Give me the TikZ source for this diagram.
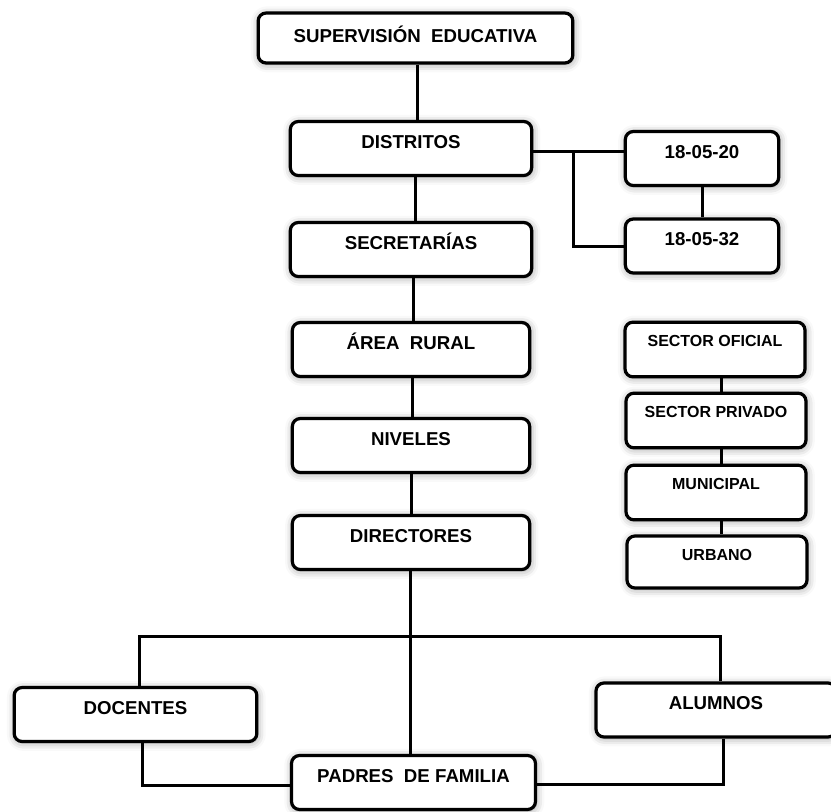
\documentclass[tikz,border=0pt]{standalone}
\usepackage{fontspec}
\setmainfont{Liberation Sans}
\usetikzlibrary{shadows.blur}

\tikzset{every picture/.style={line width=2.25pt}}
\tikzset{
  orgbox/.style={draw=black, line width=2.4pt, rounded corners=6pt, fill=white,
    blur shadow={shadow xshift=0.6pt, shadow yshift=-1pt, shadow blur radius=6pt, shadow opacity=40},
    inner xsep=0pt, inner ysep=0pt, align=center,
    font=\fontsize{14}{16}\selectfont\bfseries,
    text height=20pt, text depth=20.5pt, minimum width=181pt},
  sectorbox/.style={orgbox, font=\fontsize{12}{14}\selectfont\bfseries,
    text height=18pt, text depth=23pt, minimum width=135pt},
  codebox/.style={orgbox, minimum width=115pt},
}

\begin{document}
\begin{tikzpicture}[x=0.75pt,y=0.75pt,yscale=-1,xscale=1]
\useasboundingbox (0,0) rectangle (831,811); %keep the page at 831 x 811

%Shape: Rounded Rect (main column)
\node [orgbox, minimum width=236pt, text height=21.75pt, text depth=15.75pt] (sup) at (415.5,38) {SUPERVISIÓN~~EDUCATIVA};
\node [orgbox] (dis) at (411,148.5) {DISTRITOS};
\node [orgbox] (sec) at (411,249.5) {SECRETARÍAS};
\node [orgbox, minimum width=178pt] (are) at (411,349.5) {ÁREA~~RURAL};
\node [orgbox, minimum width=178pt] (niv) at (411,445.5) {NIVELES};
\node [orgbox, minimum width=178pt] (dir) at (411,542.5) {DIRECTORES};

%Shape: Rounded Rect (districts)
\node [codebox] (d20) at (702,158.5) {18-05-20};
\node [codebox] (d32) at (702,246) {18-05-32};

%Shape: Rounded Rect (sectors)
\node [sectorbox] (sof) at (715,349.5) {SECTOR OFICIAL};
\node [sectorbox] (spr) at (716,420.5) {SECTOR PRIVADO};
\node [sectorbox] (mun) at (716,492.5) {MUNICIPAL};
\node [sectorbox, text depth=21pt] (urb) at (717,562) {URBANO};

%Shape: Rounded Rect (bottom row)
\node [orgbox, minimum width=182pt] (doc) at (135.5,714.5) {DOCENTES};
\node [orgbox, minimum width=183pt] (pad) at (413.5,782.5) {PADRES~~DE FAMILIA};
\node [orgbox, minimum width=180pt] (alu) at (716,710) {ALUMNOS};

%Straight Lines
\draw (sup.south -| 417,0) -- (417,0 |- dis.north);
\draw (dis.south -| 415,0) -- (415,0 |- sec.north);
\draw (sec.south -| 413,0) -- (413,0 |- are.north);
\draw (are.south -| 412,0) -- (412,0 |- niv.north);
\draw (niv.south -| 411,0) -- (411,0 |- dir.north);
\draw (dir.south -| 410,0) -- (410,0 |- pad.north);

%Straight Lines (districts)
\coordinate (jd) at (573,151);
\draw (dis.east |- jd) -- (jd) -- (jd -| d20.west);
\draw (jd) |- (d32.west);
\draw (d20) -- (d32);

%Straight Lines (sectors)
\draw (sof.south -| 721,0) -- (721,0 |- spr.north);
\draw (spr.south -| 721,0) -- (721,0 |- mun.north);
\draw (mun.south -| 721,0) -- (721,0 |- urb.north);

%Straight Lines (bottom)
\coordinate (hl) at (139,636);
\coordinate (hr) at (720,636);
\draw (doc.north -| hl) -- (hl) -- (hr) -- (hr |- alu.north);
\coordinate (ll) at (142,785);
\coordinate (lr) at (723,784);
\draw (ll |- doc.south) -- (ll) -- (ll -| pad.west);
\draw (lr |- alu.south) -- (lr) -- (lr -| pad.east);

\end{tikzpicture}
\end{document}
